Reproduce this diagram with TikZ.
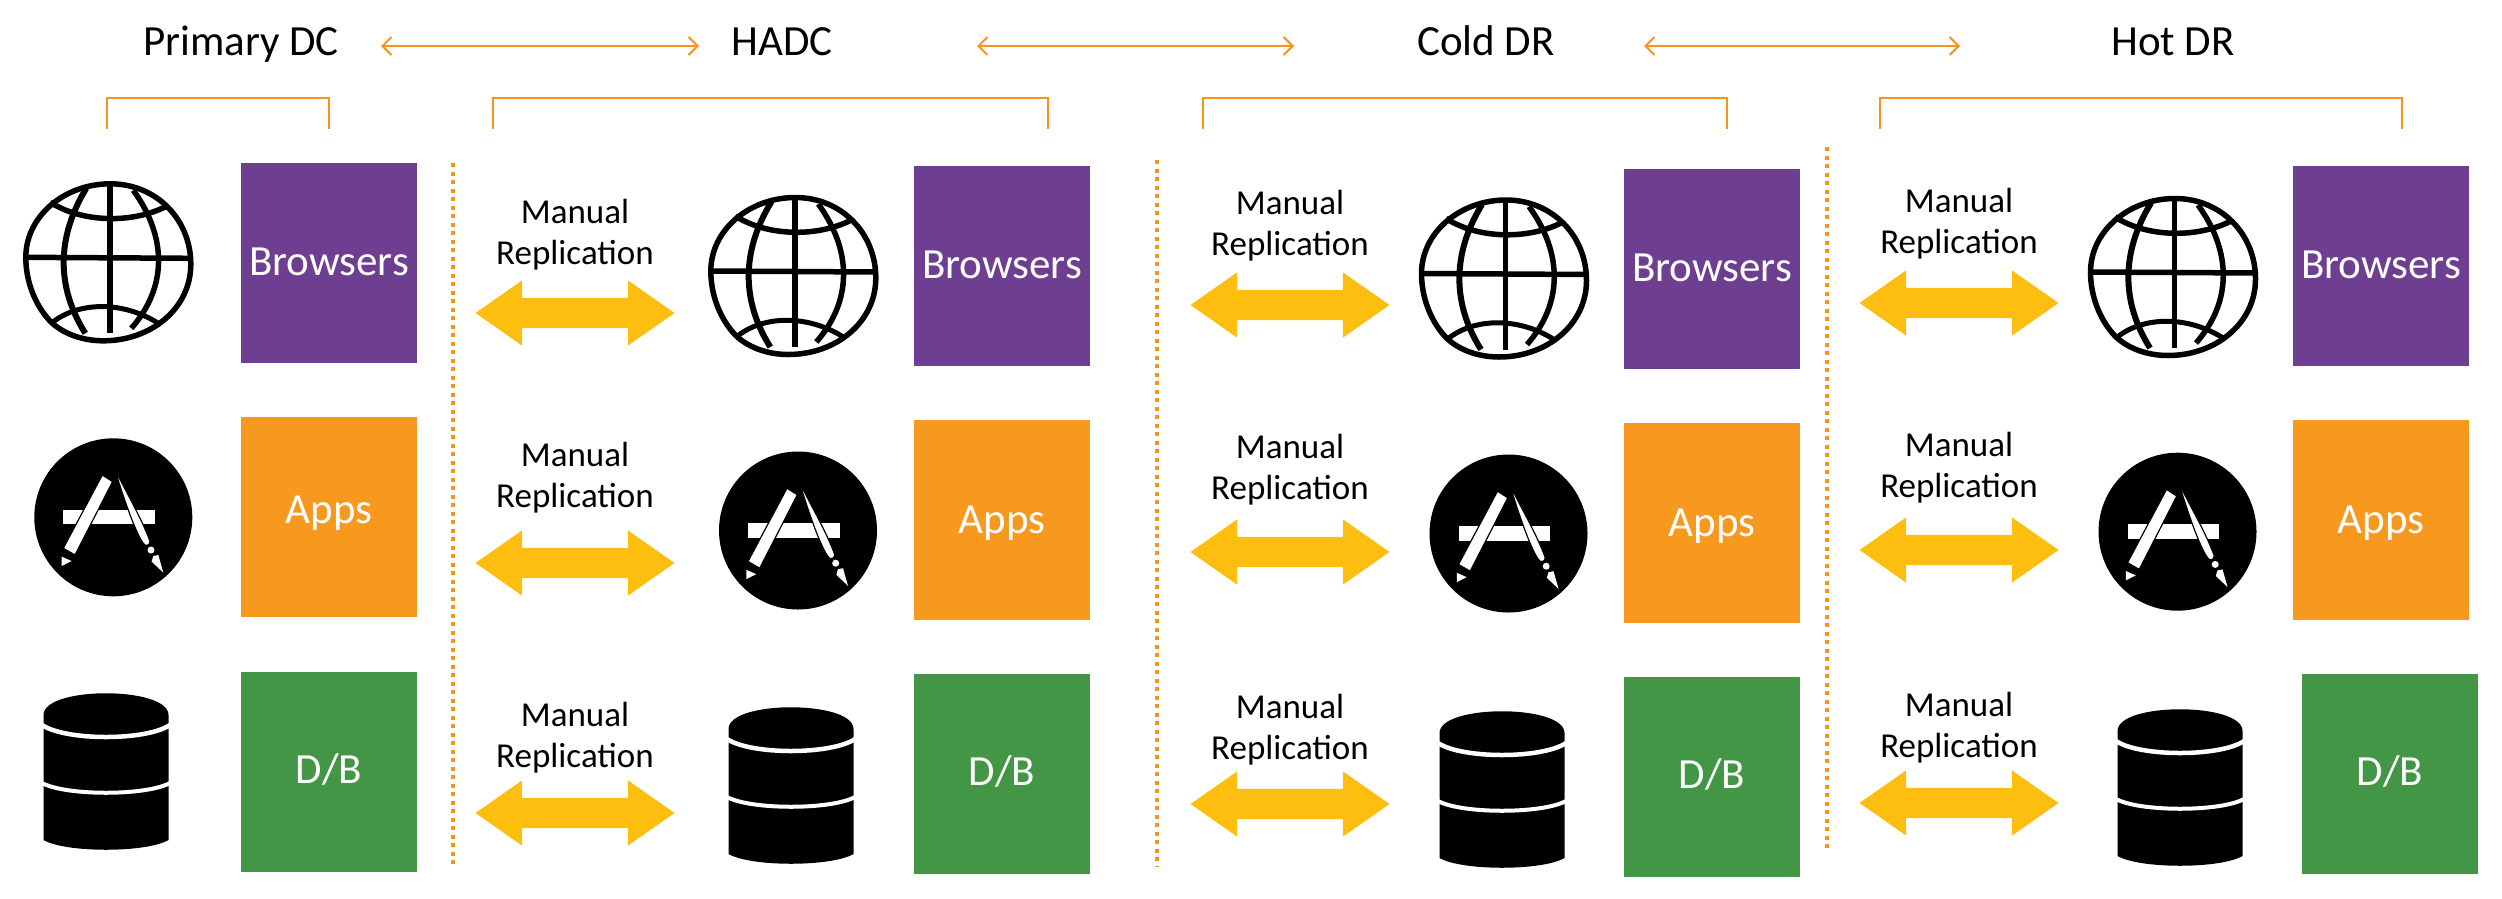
\documentclass[tikz,border=0pt]{standalone}
\usepackage{fontspec}
\setmainfont{Carlito}
\usetikzlibrary{shapes.arrows,arrows.meta}
\definecolor{cpurple}{HTML}{6E3F91}
\definecolor{corange}{HTML}{F8991F}
\definecolor{cgreen}{HTML}{439645}
\definecolor{cyellow}{HTML}{FDBE10}
\definecolor{cline}{HTML}{F7941E}
\tikzset{
  tile/.style={minimum width=176pt,minimum height=200pt,inner sep=0pt,text=white,font=\fontsize{43}{43}\selectfont,text height=27pt,text depth=0pt},
  bigarrow/.style={double arrow,fill=cyellow,draw=none,inner sep=0pt,minimum width=65pt,minimum height=199pt,double arrow head extend=17.5pt,double arrow head indent=0pt,double arrow tip angle=70},
  repltext/.style={align=center,font=\fontsize{35}{41}\selectfont,inner sep=0pt},
  head/.style={font=\fontsize{43}{43}\selectfont,inner sep=0pt,anchor=base},
  link/.style={draw=cline,line width=2pt,{Straight Barb[length=9pt,width=18pt]}-{Straight Barb[length=9pt,width=18pt]}},
  brace/.style={draw=cline,line width=2pt},
  divider/.style={draw=cline,line width=4pt,dash pattern=on 4pt off 4.5pt},
  globe/.pic={
    \draw[line width=5.5pt,line join=round] (2,-78.5) .. controls (48,-78.5) and (82.5,-43) .. (82.5,2)
      .. controls (82.5,46) and (43,78.5) .. (-5,78.5) .. controls (-28,78.5) and (-47,70) .. (-58,59)
      .. controls (-74,42) and (-82.5,18) .. (-82.5,-5) .. controls (-82.5,-46) and (-44,-78.5) .. (2,-78.5) -- cycle;
    \draw[line width=5.5pt] (1.7,-78) -- (1.7,71);
    \draw[line width=5.5pt] (-84,-5) -- (84,-4);
    \draw[line width=6pt] (-22,-74) .. controls (-52,-25) and (-52,25) .. (-23,71);
    \draw[line width=5.5pt] (25,-72) .. controls (59,-25) and (59,25) .. (23,66);
    \draw[line width=5.5pt] (-58,-60) .. controls (-25,-39) and (25,-39) .. (58,-56);
    \draw[line width=5pt] (-57,61) .. controls (-30,38.7) and (15,38.7) .. (50,61);
  },
  appicon/.pic={
    \fill[black] (0,0) circle (79);
    \fill[white] (-50,-7.3) rectangle (41.7,7);
    \draw[black,fill=white,line width=1.2pt] (-11,-42.3) -- (-0.7,-35.7) -- (-38.3,37.7) -- (-50,31) -- cycle;
    \fill[white] (-51.7,39.3) -- (-41.7,43.7) -- (-51.7,48.7) -- cycle;
    \draw[black,fill=white,line width=1.2pt] (1,-49.7) .. controls (10,-30) and (28,0) .. (36.7,24)
      .. controls (37,28) and (32,30) .. (30,26) .. controls (22,15) and (10,-20) .. (1,-49.7) -- cycle;
    \fill[white] (37.7,32.7) circle (3.5);
    \fill[white] (40,38.7) -- (45,37.7) -- (50,55.3) -- (38.3,44.3) -- cycle;
  },
  dbicon/.pic={
    \fill[black] (-62.5,22) .. controls (-62.5,-7) and (62.5,-7) .. (62.5,22)
      -- (62.5,147) .. controls (40,160) and (-40,160) .. (-62.5,147) -- cycle;
    \draw[white,line width=4.5pt] (-64,32) .. controls (-40,48) and (40,48) .. (64,32);
    \draw[white,line width=4pt] (-64,90) .. controls (-40,103) and (40,103) .. (64,90);
  },
}
\begin{document}
\begin{tikzpicture}[x=1pt,y=-1pt]
\useasboundingbox (0,0) rectangle (2502,898);
% headers
\node[head] (h1) at (241,55) {Primary DC};
\node[head] (h2) at (782,55) {HADC};
\node[head] (h3) at (1486,55) {Cold DR};
\node[head] (h4) at (2173,55) {Hot DR};
% links between headers
\foreach \n/\a/\b in {1/381/699,2/977/1294,3/1644/1960}{
  \coordinate (la\n) at (\a,46);
  \coordinate (lb\n) at (\b,46);
  \draw[link] (la\n) -- (lb\n);
}
% brackets
\foreach \n/\a/\b in {1/107/329,2/493/1048,3/1203/1727,4/1880/2402}{
  \coordinate (ba\n) at (\a,129);
  \coordinate (bb\n) at (\b,129);
  \draw[brace] (ba\n) -- ++(0,-31) -| (bb\n);
}
% dividers
\foreach \n/\a/\t/\b in {1/453/163/868,2/1157/160/866,3/1827/147/851}{
  \coordinate (da\n) at (\a,\t);
  \coordinate (db\n) at (\a,\b);
  \draw[divider] (da\n) -- (db\n);
}
% tiles
\foreach \n/\x/\xd/\ya/\yb/\yc/\rr in {1/329/329/263/517/772/7.5,2/1002/1002/266/520/774/0,3/1712/1712/269/523/777/0,4/2381/2390/266/520/774/0}{
  \node[tile,fill=cpurple] (web\n) at (\x,\ya) {\raisebox{1.5pt}{Browsers}};
  \node[tile,fill=corange] (app\n) at (\x,\yb) {\raisebox{\rr pt}{Apps}};
  \node[tile,fill=cgreen] (dbs\n) at (\xd,\yc) {\raisebox{2.5pt}{D/B}};
}
% icons
\foreach \x/\y in {108.3/262.3,793.3/276,1504/278.5,2173/277}{ \pic at (\x,\y) {globe}; }
\foreach \x/\y in {113.3/517.3,798/530.5,1508.5/533.5,2177.5/531.7}{ \pic at (\x,\y) {appicon}; }
\foreach \x/\y in {106/693,791/707,1502/711,2180/709}{ \pic at (\x,\y) {dbicon}; }
% replication
\foreach \n/\x/\aa/\ab/\ac/\ta/\tb/\tc in {2/575/313/563/813/235/478/738,3/1290/305/552/804/226/470/730,4/1959/303/550/803/224/468/728}{
  \node[bigarrow] (ra\n) at (\x,\aa) {\rule{0pt}{30pt}};
  \node[bigarrow] (rb\n) at (\x,\ab) {\rule{0pt}{30pt}};
  \node[bigarrow] (rc\n) at (\x,\ac) {\rule{0pt}{30pt}};
  \node[repltext] (ta\n) at (\x,\ta) {Manual\\Replication};
  \node[repltext] (tb\n) at (\x,\tb) {Manual\\Replication};
  \node[repltext] (tc\n) at (\x,\tc) {Manual\\Replication};
}
\end{tikzpicture}
\end{document}
